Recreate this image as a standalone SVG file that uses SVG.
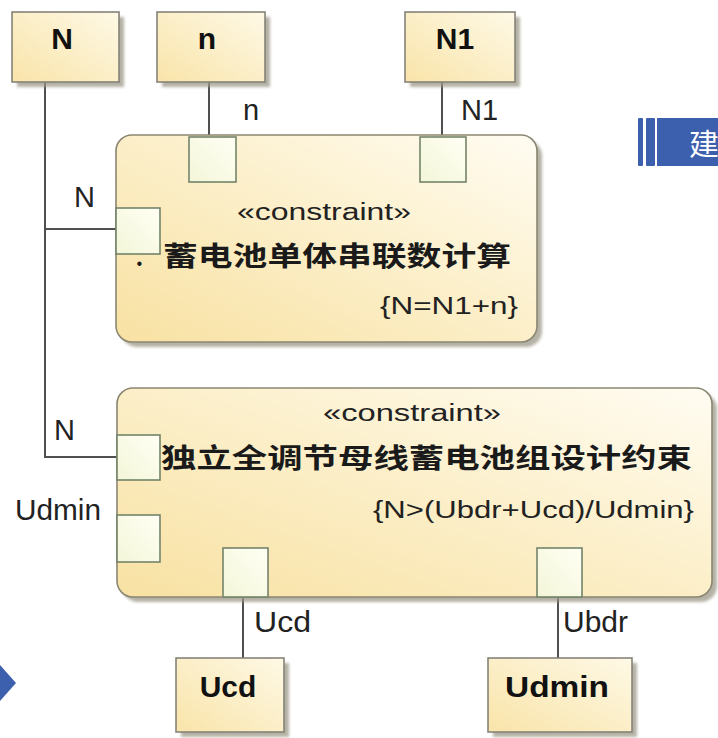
<svg xmlns="http://www.w3.org/2000/svg" width="718" height="738" viewBox="0 0 718 738">
  <defs>
    <linearGradient id="blockFill" x1="0" y1="1" x2="1" y2="0">
      <stop offset="0" stop-color="#f8e1a2"/>
      <stop offset="0.55" stop-color="#fcf0cc"/>
      <stop offset="1" stop-color="#fffcf2"/>
    </linearGradient>
    <linearGradient id="partFill" x1="0" y1="1" x2="1" y2="0">
      <stop offset="0" stop-color="#f9e4a9"/>
      <stop offset="1" stop-color="#fef9e6"/>
    </linearGradient>
    <linearGradient id="portFill" x1="0" y1="1" x2="1" y2="0">
      <stop offset="0" stop-color="#f3f6d8"/>
      <stop offset="1" stop-color="#fffff4"/>
    </linearGradient>
    <filter id="soft" x="-10%" y="-10%" width="130%" height="130%">
      <feGaussianBlur stdDeviation="1.6"/>
    </filter>
  </defs>
  <style>
    .shadow { fill: #9c9888; opacity: 0.75; filter: url(#soft); }
    .part { fill: url(#partFill); stroke: #858378; stroke-width: 1.6; }
    .block { fill: url(#blockFill); stroke: #8a8672; stroke-width: 1.6; }
    .port { fill: url(#portFill); stroke: #74846a; stroke-width: 1.6; }
    .wire { fill: none; stroke: #505050; stroke-width: 2; }
    .partName { font-family: "Liberation Sans", Arial, sans-serif; font-weight: bold; font-size: 30px; fill: #111; text-anchor: middle; }
    .lbl { font-family: "Liberation Sans", Arial, sans-serif; font-size: 29px; fill: #222; }
    .stereo { font-family: "Liberation Sans", Arial, sans-serif; font-size: 23px; fill: #222; }
    .cjk { font-family: "Liberation Serif", "Noto Sans CJK SC", serif; font-weight: bold; font-size: 27px; fill: #1a1a1a; }
    .blue { fill: #3d60ae; }
  </style>

  <!-- connectors -->
  <g id="connectors">
    <polyline class="wire" points="45,82 45,457 117,457"/>
    <line class="wire" x1="45" y1="229" x2="116" y2="229"/>
    <line class="wire" x1="209" y1="82" x2="209" y2="137"/>
    <line class="wire" x1="442" y1="82" x2="442" y2="137"/>
    <line class="wire" x1="243" y1="597" x2="243" y2="658"/>
    <line class="wire" x1="558" y1="597" x2="558" y2="658"/>
    <text class="lbl" x="243" y="120">n</text>
    <text class="lbl" x="461" y="120">N1</text>
    <text class="lbl" x="74" y="207">N</text>
    <text class="lbl" x="54" y="440">N</text>
    <text class="lbl" x="15" y="520" textLength="86" lengthAdjust="spacingAndGlyphs">Udmin</text>
    <text class="lbl" x="254" y="632" textLength="57" lengthAdjust="spacingAndGlyphs">Ucd</text>
    <text class="lbl" x="563" y="632" textLength="65" lengthAdjust="spacingAndGlyphs">Ubdr</text>
  </g>

  <!-- value parts -->
  <g id="part-N">
    <rect class="shadow" x="17" y="17" width="107" height="70"/>
    <rect class="part" x="12" y="12" width="107" height="70"/>
    <text class="partName" x="62" y="49">N</text>
  </g>
  <g id="part-n">
    <rect class="shadow" x="162" y="17" width="108" height="70"/>
    <rect class="part" x="157" y="12" width="108" height="70"/>
    <text class="partName" x="207" y="49">n</text>
  </g>
  <g id="part-N1">
    <rect class="shadow" x="410" y="17" width="110" height="70"/>
    <rect class="part" x="405" y="12" width="110" height="70"/>
    <text class="partName" x="455" y="49">N1</text>
  </g>
  <g id="part-Ucd">
    <rect class="shadow" x="181" y="663" width="108" height="74"/>
    <rect class="part" x="176" y="658" width="108" height="74"/>
    <text class="partName" x="228" y="697">Ucd</text>
  </g>
  <g id="part-Udmin">
    <rect class="shadow" x="493" y="663" width="144" height="74"/>
    <rect class="part" x="488" y="658" width="144" height="74"/>
    <text class="partName" x="557" y="697" textLength="104" lengthAdjust="spacingAndGlyphs">Udmin</text>
  </g>

  <!-- constraint: cell count -->
  <g id="constraint-cells">
    <rect class="shadow" x="121" y="140" width="421" height="207" rx="16"/>
    <rect class="block" x="116" y="135" width="421" height="207" rx="16"/>
    <text class="stereo" x="237" y="220" textLength="174" lengthAdjust="spacingAndGlyphs">«constraint»</text>
    <text class="cjk" x="136" y="266">.</text>
    <text class="cjk" x="163" y="266" textLength="348" lengthAdjust="spacingAndGlyphs">蓄电池单体串联数计算</text>
    <text class="stereo" x="380" y="314" textLength="138" lengthAdjust="spacingAndGlyphs">{N=N1+n}</text>
    <rect class="port" x="189" y="137" width="47" height="45"/>
    <rect class="port" x="420" y="137" width="46" height="45"/>
    <rect class="port" x="116" y="208" width="44" height="46"/>
  </g>

  <!-- constraint: bus battery design -->
  <g id="constraint-bus">
    <rect class="shadow" x="122" y="393" width="595" height="209" rx="16"/>
    <rect class="block" x="117" y="388" width="595" height="209" rx="16"/>
    <text class="stereo" x="323" y="421" textLength="178" lengthAdjust="spacingAndGlyphs">«constraint»</text>
    <text class="cjk" x="161" y="468" textLength="531" lengthAdjust="spacingAndGlyphs">独立全调节母线蓄电池组设计约束</text>
    <text class="stereo" x="373" y="518" textLength="321" lengthAdjust="spacingAndGlyphs">{N&gt;(Ubdr+Ucd)/Udmin}</text>
    <rect class="port" x="117" y="435" width="43" height="45"/>
    <rect class="port" x="117" y="515" width="43" height="47"/>
    <rect class="port" x="223" y="548" width="45" height="49"/>
    <rect class="port" x="537" y="548" width="45" height="49"/>
  </g>

  <!-- page chrome at the edges -->
  <g id="side-tab">
    <rect class="blue" x="638" y="118" width="5" height="48" rx="1"/>
    <rect class="blue" x="646" y="118" width="9" height="48" rx="1"/>
    <rect class="blue" x="657" y="118" width="63" height="48"/>
    <text x="689" y="155" font-family="Noto Sans CJK SC, sans-serif" font-size="30" fill="#ffffff">建</text>
  </g>
  <polygon id="side-arrow" class="blue" points="0,665 16,683 0,701"/>
</svg>
